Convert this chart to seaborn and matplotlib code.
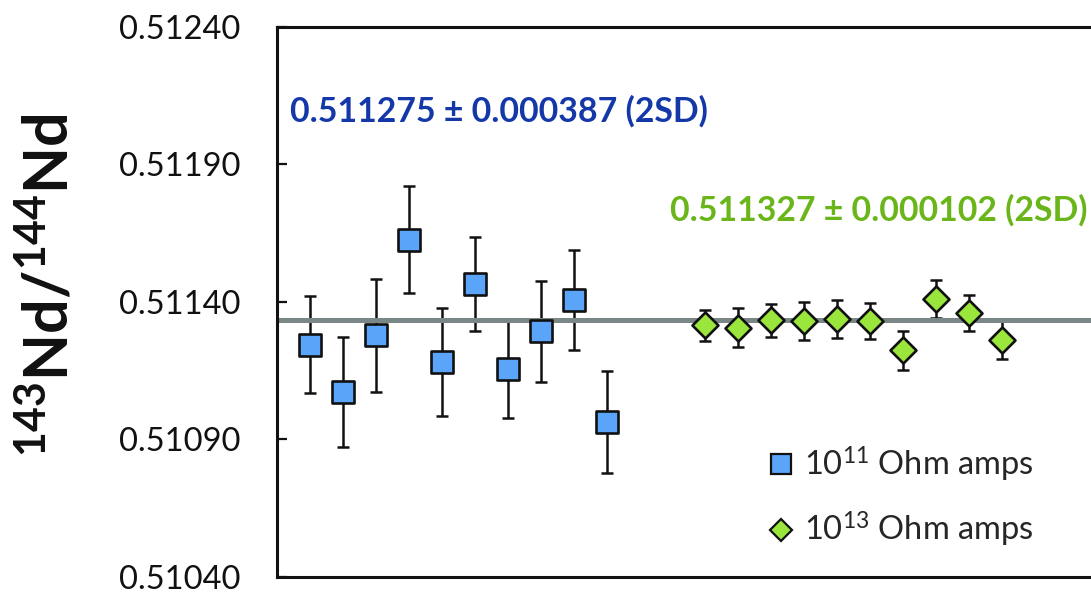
import numpy as np
import pandas as pd
import matplotlib
matplotlib.use("Agg")
import matplotlib.pyplot as plt
from matplotlib.lines import Line2D
from matplotlib.ticker import FormatStrFormatter
import seaborn as sns

# ---------------------------------------------------------------------------
# Data
# ---------------------------------------------------------------------------
blue_x = [1, 2, 3, 4, 5, 6, 7, 8, 9, 10]
blue_val = [0.511245, 0.511072, 0.511279, 0.511627, 0.511182,
            0.511467, 0.511155, 0.511293, 0.511406, 0.510963]
blue_err = [0.000177, 0.000199, 0.000206, 0.000193, 0.000197,
            0.000171, 0.000176, 0.000185, 0.000182, 0.000185]

green_x = [13, 14, 15, 16, 17, 18, 19, 20, 21, 22]
green_val = [0.511315, 0.511307, 0.511333, 0.511331, 0.511337,
             0.511331, 0.511224, 0.511410, 0.511361, 0.511261]
green_err = [0.000056, 0.000072, 0.000061, 0.000068, 0.000069,
             0.000067, 0.000072, 0.000069, 0.000065, 0.000070]

ref_value = 0.511335
y_ticks = [0.51040, 0.51090, 0.51140, 0.51190, 0.51240]

blue_label = r"10$\mathrm{^{11}}$ Ohm amps"
green_label = r"10$\mathrm{^{13}}$ Ohm amps"
blue_note = "0.511275 ± 0.000387 (2SD)"
green_note = "0.511327 ± 0.000102 (2SD)"

BLUE_FILL = "#5aa5fa"
GREEN_FILL = "#9be63c"
BLUE_TEXT = "#1438a8"
GREEN_TEXT = "#6ab61a"
LINE_GRAY = "#7a8787"

df_blue = pd.DataFrame({"x": blue_x, "val": blue_val, "err": blue_err})
df_green = pd.DataFrame({"x": green_x, "val": green_val, "err": green_err})

# ---------------------------------------------------------------------------
# Style
# ---------------------------------------------------------------------------
sns.set_style("ticks")
plt.rcParams["font.family"] = ["Lato", "DejaVu Sans"]
plt.rcParams["mathtext.fontset"] = "custom"
plt.rcParams["mathtext.rm"] = "Lato"
plt.rcParams["mathtext.bf"] = "Lato:bold"

fig = plt.figure(figsize=(10.91, 5.94), dpi=100)
ax = fig.add_axes([277 / 1091, 17 / 594, 814 / 1091, 550 / 594])

# error bars (under the reference line), then line, then markers
for d in (df_blue, df_green):
    ax.errorbar(d["x"], d["val"], yerr=d["err"], fmt="none", ecolor="#111111",
                elinewidth=1.8, capsize=4, capthick=1.8, zorder=1)

ax.axhline(ref_value, color=LINE_GRAY, lw=3.6, zorder=2)

sns.scatterplot(data=df_blue, x="x", y="val", marker="s", s=240, color=BLUE_FILL,
                edgecolor="#111111", linewidth=1.9, legend=False, zorder=3, ax=ax)
sns.scatterplot(data=df_green, x="x", y="val", marker="D", s=175, color=GREEN_FILL,
                edgecolor="#111111", linewidth=1.9, legend=False, zorder=3, ax=ax)

ax.set_xlim(0.0, 24.7)
ax.set_ylim(y_ticks[0], y_ticks[-1])
ax.set_yticks(y_ticks)
ax.yaxis.set_major_formatter(FormatStrFormatter("%.5f"))
ax.set_xticks([])
ax.set_xlabel("")
ax.set_ylabel("")
ax.tick_params(axis="y", direction="in", length=7, width=1.6, pad=26.5,
               labelsize=23.5, colors="#111111")

for side in ("left", "top", "bottom"):
    ax.spines[side].set_linewidth(2.2)
    ax.spines[side].set_color("#111111")
ax.spines["right"].set_visible(False)

fig.text(49 / 1091, (594 - 285) / 594, r"$\mathbf{^{143}Nd/^{144}Nd}$",
         rotation=90, ha="center", va="center", fontsize=44, color="#111111")

ax.text(0.016, 0.828, blue_note, transform=ax.transAxes, fontsize=24.4,
        fontweight="bold", color=BLUE_TEXT, va="baseline", ha="left")
ax.text(0.483, 0.649, green_note, transform=ax.transAxes, fontsize=24.4,
        fontweight="bold", color=GREEN_TEXT, va="baseline", ha="left")

handles = [
    Line2D([], [], linestyle="none", marker="s", markersize=15,
           markerfacecolor=BLUE_FILL, markeredgecolor="#111111", markeredgewidth=1.6),
    Line2D([], [], linestyle="none", marker="D", markersize=11.5,
           markerfacecolor=GREEN_FILL, markeredgecolor="#111111", markeredgewidth=1.6),
]
ax.legend(handles, [blue_label, green_label], loc="upper left",
          bbox_to_anchor=((768 - 277) / 814, (577 - 445) / 550),
          frameon=False, fontsize=23.5, handlelength=0.8, handletextpad=0.3,
          labelspacing=0.8, borderpad=0, borderaxespad=0)

fig.savefig("out.png", dpi=100)
